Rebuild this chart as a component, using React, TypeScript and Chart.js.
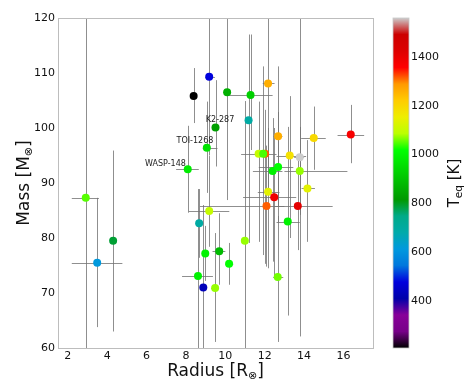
import React, { useEffect, useRef } from "react";
import { Chart, registerables } from "chart.js";

Chart.register(...registerables);

// ---------------- data ----------------
const planetRadius = [
  2.91, 3.49, 4.3, 8.39, 9.18, 9.5, 9.06, 8.09, 10.09, 11.28, 11.18, 12.17, 12.68, 14.49, 16.37,
  12.02, 11.69, 11.92, 13.27, 13.78, 12.4, 12.68, 13.78, 14.17, 12.17, 12.48, 12.09, 13.68, 13.17,
  10.99, 9.18, 8.67, 8.98, 9.69, 10.19, 8.61, 8.88, 9.48, 12.66,
];
const radiusErrLow = [
  0.71, 1.29, 0.05, 0.05, 0.21, 0.1, 0.21, 0.59, 0.05, 1.18, 0.05, 0.27, 0.23, 0.64, 0.67,
  0.32, 0.89, 0.3, 0.67, 0.28, 1.0, 0.98, 0.78, 0.3, 0.52, 1.58, 3.38, 1.18, 0.57,
  0.05, 1.03, 0.17, 0.1, 0.34, 0.19, 0.81, 0.1, 0.2, 0.23,
];
const radiusErrHigh = [
  0.67, 1.28, 0.05, 0.05, 0.29, 0.1, 0.54, 0.56, 0.05, 1.12, 0.05, 0.33, 0.22, 0.61, 0.68,
  0.58, 0.51, 0.3, 0.83, 0.22, 0.5, 0.77, 2.42, 0.38, 0.58, 1.12, 0.91, 1.77, 0.61,
  0.05, 1.02, 0.18, 0.1, 0.31, 0.21, 0.76, 0.1, 0.2, 0.28,
];
const planetMass = [
  87.3, 75.5, 79.5, 105.8, 109.3, 100.1, 96.4, 92.5, 106.5, 106.0, 101.4, 108.1, 98.5, 98.2, 98.8,
  95.3, 95.3, 95.3, 95.0, 94.7, 92.2, 92.9, 92.2, 89.0, 88.4, 87.4, 85.8, 85.8, 83.0,
  79.5, 84.9, 82.7, 77.2, 77.6, 75.3, 73.1, 71.0, 70.9, 72.9,
];
const massErrLow = [
  40, 11.7, 16.5, 4.9, 14.3, 7.1, 8.2, 7.9, 19.6, 10, 22.3, 20, 12.7, 5.8, 5.2,
  20, 16, 18.4, 15, 32.6, 16.5, 10, 8, 9.7, 13.9, 14.4, 11, 8, 17.1,
  24.5, 6.5, 6.3, 5, 6.1, 3.8, 23, 21, 9.8, 11.8,
];
const massErrHigh = [
  40, 11.8, 16.4, 5.1, 15.7, 8.6, 8.4, 7.9, 18.5, 11, 15.6, 17, 12.7, 5.7, 5.4,
  8, 9.5, 15.9, 10.8, 30, 9.6, 10, 8, 8.8, 11.6, 12.6, 11, 8.2, 17.2,
  25.4, 10, 6.2, 5, 6.9, 3.8, 15.8, 15, 10, 11.1,
];
const equilibriumTemp = [
  1050, 613, 790, 207, 478, 830, 965, 980, 860, 925, 695, 1262, 1262, 1195, 1370,
  1316, 1100, 1045, 1180, 1560, 992, 1019, 1073, 1140, 1140, 1385, 1316, 1410, 992,
  1073, 1100, 695, 992, 884, 1019, 992, 430, 1073, 1060,
];
const labelNames = ["K2-287", "TOI-1268", "WASP-148"];
const labelIndex = [5, 6, 7];

const xTicks = [2, 4, 6, 8, 10, 12, 14, 16];
const yTicks = [60, 70, 80, 90, 100, 110, 120];
const teqTicks = [400, 600, 800, 1000, 1200, 1400];
const teqMin = 207;
const teqMax = 1560;

// -------------- styles ---------------
const FONT = "DejaVu Sans";
const labelOffsets = [
  [-9.7, -5.7],
  [-30.3, -4.7],
  [-42.7, -3.3],
];

// nipy_spectral colormap (21 evenly spaced stops)
const CM_R = [0, 0.4667, 0.5333, 0, 0, 0, 0, 0, 0, 0, 0, 0, 0, 0.7333, 0.9333, 1, 1, 1, 0.8667, 0.8, 0.8];
const CM_G = [0, 0, 0, 0, 0, 0.4667, 0.6, 0.6667, 0.6667, 0.6, 0.7333, 0.8667, 1, 1, 0.9333, 0.8, 0.6, 0, 0, 0, 0.8];
const CM_B = [0, 0.5333, 0.6, 0.6667, 0.8667, 0.8667, 0.8667, 0.6667, 0.5333, 0, 0, 0, 0, 0, 0, 0, 0, 0, 0, 0, 0.8];

function cmap(f: number): string {
  const c = Math.max(0, Math.min(1, f)) * 20;
  const i = Math.min(19, Math.floor(c));
  const t = c - i;
  const ch = (a: number[]) => Math.round((a[i] + (a[i + 1] - a[i]) * t) * 255);
  return `rgb(${ch(CM_R)},${ch(CM_G)},${ch(CM_B)})`;
}
const teqColor = (v: number) => cmap((v - teqMin) / (teqMax - teqMin));

type Part = { text: string; size: number; dy: number };
function drawParts(ctx: CanvasRenderingContext2D, parts: Part[], cx: number, baseline: number) {
  let total = 0;
  const widths = parts.map((p) => {
    ctx.font = `${p.size}px "${FONT}"`;
    const w = ctx.measureText(p.text).width;
    total += w;
    return w;
  });
  let x = cx - total / 2;
  ctx.textAlign = "left";
  ctx.textBaseline = "alphabetic";
  parts.forEach((p, i) => {
    ctx.font = `${p.size}px "${FONT}"`;
    ctx.fillText(p.text, x, baseline + p.dy);
    x += widths[i];
  });
}

const errorBarPlugin = {
  id: "errorBars",
  beforeDatasetsDraw(chart: any) {
    const { ctx, chartArea: a } = chart;
    const xs = chart.scales.x;
    const ys = chart.scales.y;
    ctx.save();
    ctx.beginPath();
    ctx.rect(a.left, a.top, a.right - a.left, a.bottom - a.top);
    ctx.clip();
    ctx.strokeStyle = "rgba(115,115,115,0.8)";
    ctx.lineWidth = 1;
    for (let i = 0; i < planetRadius.length; i++) {
      const px = Math.round(xs.getPixelForValue(planetRadius[i])) + 0.5;
      const py = Math.round(ys.getPixelForValue(planetMass[i])) + 0.5;
      const x0 = xs.getPixelForValue(planetRadius[i] - radiusErrLow[i]);
      const x1 = xs.getPixelForValue(planetRadius[i] + radiusErrHigh[i]);
      const y0 = ys.getPixelForValue(planetMass[i] - massErrLow[i]);
      const y1 = ys.getPixelForValue(planetMass[i] + massErrHigh[i]);
      ctx.beginPath();
      ctx.moveTo(x0, py);
      ctx.lineTo(x1, py);
      ctx.moveTo(px, y0);
      ctx.lineTo(px, y1);
      ctx.stroke();
    }
    ctx.restore();
  },
  afterDatasetsDraw(chart: any) {
    const { ctx } = chart;
    const xs = chart.scales.x;
    const ys = chart.scales.y;
    ctx.save();
    ctx.fillStyle = "#222";
    ctx.font = `8px "${FONT}"`;
    ctx.textAlign = "left";
    ctx.textBaseline = "alphabetic";
    labelNames.forEach((name, k) => {
      const i = labelIndex[k];
      const px = xs.getPixelForValue(planetRadius[i]);
      const py = ys.getPixelForValue(planetMass[i]);
      ctx.fillText(name, px + labelOffsets[k][0], py + labelOffsets[k][1]);
    });
    ctx.restore();
  },
  afterDraw(chart: any) {
    const { ctx, chartArea: a } = chart;
    ctx.save();
    // frame
    ctx.strokeStyle = "#bdbdbd";
    ctx.lineWidth = 1;
    ctx.strokeRect(Math.round(a.left) + 0.5, Math.round(a.top) + 0.5, Math.round(a.right - a.left), Math.round(a.bottom - a.top));
    // colorbar
    const cb = chart.scales.cb;
    const top = cb.getPixelForValue(teqMax);
    const bot = cb.getPixelForValue(teqMin);
    const left = cb.left + 20;
    const w = 16;
    const g = ctx.createLinearGradient(0, bot, 0, top);
    for (let s = 0; s <= 20; s++) g.addColorStop(s / 20, cmap(s / 20));
    ctx.fillStyle = g;
    ctx.fillRect(left, top, w, bot - top);
    ctx.strokeStyle = "#c8c8c8";
    ctx.lineWidth = 0.8;
    ctx.strokeRect(left, top, w, bot - top);
    // titles
    ctx.fillStyle = "#111";
    drawParts(
      ctx,
      [
        { text: "Radius [R", size: 17, dy: 0 },
        { text: "\u2297", size: 11, dy: 2.5 },
        { text: "]", size: 17, dy: 0 },
      ],
      (a.left + a.right) / 2,
      368
    );
    ctx.save();
    ctx.translate(21.3, (a.top + a.bottom) / 2);
    ctx.rotate(-Math.PI / 2);
    drawParts(
      ctx,
      [
        { text: "Mass [M", size: 17, dy: 0 },
        { text: "\u2297", size: 11, dy: 2.5 },
        { text: "]", size: 17, dy: 0 },
      ],
      0,
      0
    );
    ctx.restore();
    ctx.save();
    ctx.translate(451, (top + bot) / 2);
    ctx.rotate(-Math.PI / 2);
    drawParts(
      ctx,
      [
        { text: "T", size: 15, dy: 0 },
        { text: "eq", size: 10.5, dy: 3 },
        { text: " [K]", size: 15, dy: 0 },
      ],
      0,
      0
    );
    ctx.restore();
    ctx.restore();
  },
};

export default function App() {
  const ref = useRef<HTMLCanvasElement | null>(null);
  useEffect(() => {
    if (!ref.current) return;
    const colors = equilibriumTemp.map(teqColor);
    const tickFont = { family: FONT, size: 11 };
    const chart = new Chart(ref.current, {
      type: "scatter",
      data: {
        datasets: [
          {
            data: planetRadius.map((r, i) => ({ x: r, y: planetMass[i] })),
            pointBackgroundColor: colors,
            pointBorderColor: colors,
            pointBorderWidth: 0,
            pointRadius: 4,
            pointHoverRadius: 4,
          },
        ],
      },
      options: {
        responsive: false,
        animation: false,
        events: [],
        layout: { padding: { top: 10, left: 0, right: 0, bottom: 0 } },
        plugins: { legend: { display: false }, tooltip: { enabled: false } },
        scales: {
          x: {
            type: "linear",
            min: 1.5,
            max: 17.5,
            grid: { display: false, drawTicks: false },
            border: { display: false },
            ticks: { padding: 2, color: "#111", font: tickFont, callback: (v: any) => String(v) },
            afterBuildTicks: (s: any) => {
              s.ticks = xTicks.map((v) => ({ value: v }));
            },
            afterFit: (s: any) => {
              s.height = 34;
            },
          },
          y: {
            type: "linear",
            position: "left",
            min: 60,
            max: 120,
            grid: { display: false, drawTicks: false },
            border: { display: false },
            ticks: { padding: 3, color: "#111", font: tickFont, callback: (v: any) => String(v) },
            afterBuildTicks: (s: any) => {
              s.ticks = yTicks.map((v) => ({ value: v }));
            },
            afterFit: (s: any) => {
              s.width = 50;
            },
          },
          cb: {
            type: "linear",
            position: "right",
            min: teqMin,
            max: teqMax,
            grid: { display: false, drawTicks: true, tickLength: 35 },
            border: { display: false },
            ticks: { padding: 3, color: "#111", font: tickFont, callback: (v: any) => String(v) },
            afterBuildTicks: (s: any) => {
              s.ticks = teqTicks.map((v) => ({ value: v }));
            },
            afterFit: (s: any) => {
              s.width = 93;
            },
          },
        },
      } as any,
      plugins: [errorBarPlugin],
    });
    return () => chart.destroy();
  }, []);
  return (
    <div style={{ width: 458, height: 374 }}>
      <canvas ref={ref} width={458} height={374} style={{ display: "block" }} />
    </div>
  );
}
